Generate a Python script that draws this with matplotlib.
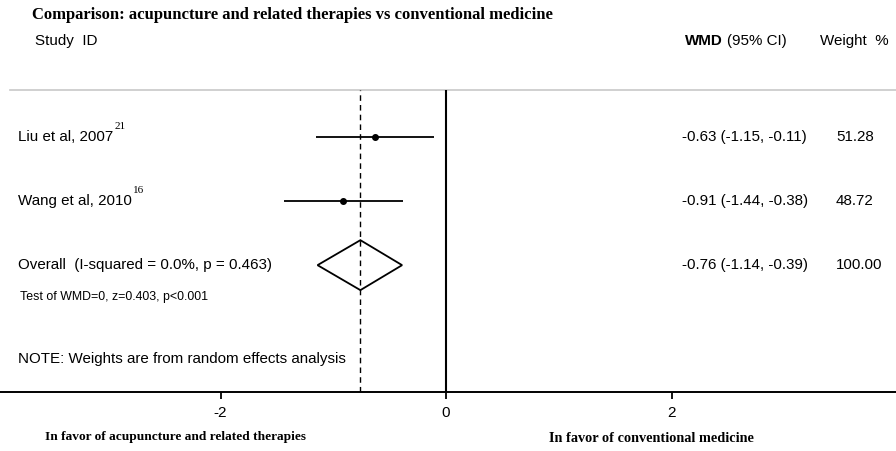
import matplotlib

matplotlib.use("Agg")
import matplotlib.pyplot as plt
import matplotlib.transforms as mtransforms
from matplotlib.patches import Polygon

SANS = "Liberation Sans"
SERIF = "Liberation Serif"

STUDIES = ["Liu et al, 2007", "Wang et al, 2010"]
REFS = ["21", "16"]
WMD = [-0.63, -0.91]
CI_LO = [-1.15, -1.44]
CI_HI = [-0.11, -0.38]
WEIGHTS = [51.28, 48.72]

OVERALL_LABEL = "Overall  (I-squared = 0.0%, p = 0.463)"
OVERALL_WMD = -0.76
OVERALL_LO = -1.14
OVERALL_HI = -0.39
OVERALL_WEIGHT = 100.00

X_TICKS = [-2, 0, 2]
TITLE = "Comparison: acupuncture and related therapies vs conventional medicine"
TEST_TEXT = "Test of WMD=0, z=0.403, p<0.001"
NOTE_TEXT = "NOTE: Weights are from random effects analysis"
LEFT_FAVOR = "In favor of acupuncture and related therapies"
RIGHT_FAVOR = "In favor of conventional medicine"

FS = 10.9  # main sans text size

W, H = 896, 451
fig = plt.figure(figsize=(W / 100, H / 100), dpi=100)
ax = fig.add_axes([0, 1 - 392 / H, 1, (392 - 90) / H])
ax.set_xlim(-3.956, 3.99)
ax.set_ylim(4.98, 0.266)

for s in ("top", "left", "right"):
    ax.spines[s].set_visible(False)
ax.spines["bottom"].set_linewidth(1.4)
ax.set_yticks([])
ax.set_xticks(X_TICKS)
ax.set_xticklabels([f"{t:g}" for t in X_TICKS], family=SANS, fontsize=11)
ax.tick_params(axis="x", direction="out", length=5, width=1.3, pad=5)

# faint rule under header
ax.axhline(0.266, xmin=10 / W, xmax=1, color="#c8c8c8", lw=1.2, clip_on=False)

ax.axvline(0, color="black", lw=1.5)
ax.axvline(OVERALL_WMD, color="black", lw=1.0, ls=(0, (4, 3)))

rows = list(range(1, len(STUDIES) + 1))
for y, m, lo, hi in zip(rows, WMD, CI_LO, CI_HI):
    ax.plot([lo, hi], [y, y], color="black", lw=1.3, solid_capstyle="butt")
    ax.plot(m, y, "o", color="black", ms=4)

oy = len(STUDIES) + 1
dh = 0.39
ax.add_patch(Polygon([(OVERALL_LO, oy), (OVERALL_WMD, oy - dh),
                      (OVERALL_HI, oy), (OVERALL_WMD, oy + dh)],
                     closed=True, fill=False, edgecolor="black", lw=1.3))

tr = mtransforms.blended_transform_factory(fig.transFigure, ax.transData)

fig.text(32 / W, 1 - 15 / H, TITLE, family=SERIF, weight="bold", fontsize=12, va="center")
fig.text(35 / W, 1 - 41 / H, "Study  ID", family=SANS, fontsize=FS, va="center")
fig.text(685 / W, 1 - 41 / H, "WMD", family=SANS, weight="bold", fontsize=FS, va="center")
fig.text(727 / W, 1 - 41 / H, "(95% CI)", family=SANS, fontsize=FS, va="center")
fig.text(820 / W, 1 - 41 / H, "Weight  %", family=SANS, fontsize=FS, va="center")

fig.canvas.draw()
renderer = fig.canvas.get_renderer()
for y, name, ref, m, lo, hi, w in zip(rows, STUDIES, REFS, WMD, CI_LO, CI_HI, WEIGHTS):
    t = ax.text(18 / W, y, name, transform=tr, family=SANS, fontsize=FS, va="center")
    bb = t.get_window_extent(renderer)
    ax.text((bb.x1 + 1) / W, y - 0.17, ref, transform=tr, family=SERIF, fontsize=8, va="center")
    ax.text(682 / W, y, f"{m:.2f} ({lo:.2f}, {hi:.2f})", transform=tr,
            family=SANS, fontsize=FS, va="center")
    ax.text(836 / W, y, f"{w:.2f}", transform=tr, family=SANS, fontsize=FS, va="center")

ax.text(18 / W, oy, OVERALL_LABEL, transform=tr, family=SANS, fontsize=FS, va="center")
ax.text(682 / W, oy, f"{OVERALL_WMD:.2f} ({OVERALL_LO:.2f}, {OVERALL_HI:.2f})", transform=tr,
        family=SANS, fontsize=FS, va="center")
ax.text(836 / W, oy, f"{OVERALL_WEIGHT:.2f}", transform=tr, family=SANS, fontsize=FS, va="center")
ax.text(20 / W, oy + 0.5, TEST_TEXT, transform=tr, family=SANS, fontsize=8.9, va="center")
ax.text(18 / W, oy + 1.47, NOTE_TEXT, transform=tr, family=SANS, fontsize=FS, va="center")

fig.text(175 / W, 1 - 437 / H, LEFT_FAVOR, family=SERIF, weight="bold", fontsize=9.6,
         ha="center", va="center")
fig.text(651 / W, 1 - 439 / H, RIGHT_FAVOR, family=SERIF, weight="bold", fontsize=10.3,
         ha="center", va="center")

fig.savefig("out.png", dpi=100)
